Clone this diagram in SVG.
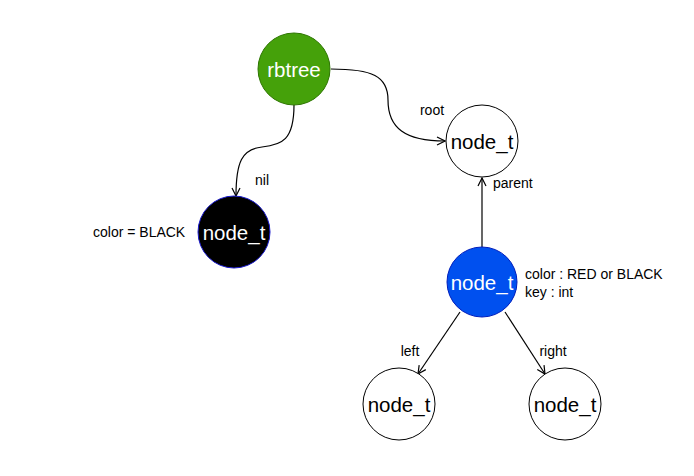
<svg xmlns="http://www.w3.org/2000/svg" width="694" height="476" viewBox="0 0 694 476">
<defs>
<marker id="open" viewBox="0 0 10 10" refX="9" refY="5" markerWidth="10" markerHeight="10" markerUnits="userSpaceOnUse" orient="auto">
<path d="M1,1 L9,5 L1,9" fill="none" stroke="#000" stroke-width="1.2"/>
</marker>
<style>
.edge{fill:none;stroke:#000;stroke-width:1.2;marker-end:url(#open)}
.lbl{font-family:"Liberation Sans",Arial,sans-serif;font-size:14px;fill:#000}
.nt{font-family:"Liberation Sans",Arial,sans-serif;font-size:20.5px;text-anchor:middle;dominant-baseline:central}
</style>
</defs>
<rect width="694" height="476" fill="#fff"/>
<g id="connectors">
<path class="edge" d="M331,69 C372,69 388,76 388,100 C388,128 405,141 445,141"/>
<path class="edge" d="M294,105 C294,140 282,145 262,147 C242,149 236,162 236,196"/>
<path class="edge" d="M482,247 L482,178"/>
<path class="edge" d="M460,312 L418,374"/>
<path class="edge" d="M505,312 L545,374"/>
<text class="lbl" x="432" y="115" text-anchor="middle">root</text>
<text class="lbl" x="262" y="185" text-anchor="middle">nil</text>
<text class="lbl" x="493" y="188">parent</text>
<text class="lbl" x="410" y="356" text-anchor="middle">left</text>
<text class="lbl" x="553" y="356" text-anchor="middle">right</text>
</g>
<g id="rbtree">
<circle cx="294" cy="69" r="36" fill="#45a10a" stroke="#2d7600"/>
<text class="nt" x="294" y="69" fill="#fff">rbtree</text>
</g>
<g id="root">
<circle cx="482" cy="141" r="36" fill="#fff" stroke="#000"/>
<text class="nt" x="482" y="141" fill="#000">node_t</text>
</g>
<g id="nil">
<circle cx="234" cy="232" r="36" fill="#000" stroke="#1a1acc"/>
<text class="nt" x="234" y="232" fill="#fff">node_t</text>
<text class="lbl" x="93" y="237">color = BLACK</text>
</g>
<g id="node">
<circle cx="482" cy="282" r="35" fill="#0050ef" stroke="#001dbc"/>
<text class="nt" x="482" y="282" fill="#fff">node_t</text>
<text class="lbl" x="525" y="279">color : RED or BLACK</text>
<text class="lbl" x="525" y="297">key : int</text>
</g>
<g id="left">
<circle cx="399" cy="404" r="36" fill="#fff" stroke="#000"/>
<text class="nt" x="399" y="404" fill="#000">node_t</text>
</g>
<g id="right">
<circle cx="565" cy="404" r="36" fill="#fff" stroke="#000"/>
<text class="nt" x="565" y="404" fill="#000">node_t</text>
</g>
</svg>
